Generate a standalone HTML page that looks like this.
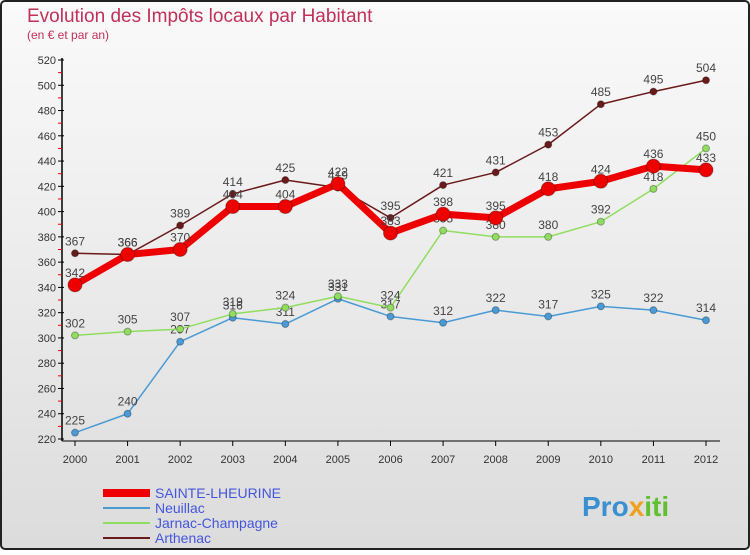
<!DOCTYPE html>
<html><head><meta charset="utf-8"><style>
body{margin:0;width:750px;height:550px;overflow:hidden;font-family:"Liberation Sans",sans-serif}
</style></head><body>
<svg width="750" height="550" viewBox="0 0 750 550">
<defs><linearGradient id="bg" x1="0" y1="0" x2="0" y2="1"><stop offset="0" stop-color="#fafafa"/><stop offset="1" stop-color="#dcdcdc"/></linearGradient></defs>
<rect x="1" y="1" width="748" height="548" rx="4" fill="url(#bg)" stroke="#222" stroke-width="2"/>
<text x="27" y="22" font-size="19" fill="#c0305a">Evolution des Impôts locaux par Habitant</text>
<text x="27" y="39" font-size="12" fill="#c0305a">(en € et par an)</text>
<g id="axes"></g><g id="series"></g><g id="legend"></g>
<text x="582" y="516" font-size="28" font-weight="bold" fill="#3a8fd0">Pro<tspan fill="#f0a020">x</tspan><tspan fill="#60c030">iti</tspan></text>
</svg>
<script>
const years=[2000,2001,2002,2003,2004,2005,2006,2007,2008,2009,2010,2011,2012];
const yTicks=[220,240,260,280,300,320,340,360,380,400,420,440,460,480,500,520];
const sainte=[342,366,370,404,404,422,383,398,395,418,424,436,433];
const neuillac=[225,240,297,316,311,331,317,312,322,317,325,322,314];
const jarnac=[302,305,307,319,324,333,324,385,380,380,392,418,450];
const arthenac=[367,366,389,414,425,419,395,421,431,453,485,495,504];
const NS="http://www.w3.org/2000/svg";
const X=i=>75+i*(706-75)/12;
const Y=v=>439-(v-220)*(439-60)/300;
function mk(t,a,p){const e=document.createElementNS(NS,t);for(const k in a)e.setAttribute(k,a[k]);p.appendChild(e);return e;}
const ax=document.getElementById('axes');
const yl=mk('line',{x1:62,y1:58,x2:62,y2:441,stroke:'#000','stroke-width':1.5},ax);


const xl=mk('line',{x1:62,y1:441,x2:720,y2:441,stroke:'#000','stroke-width':1},ax);


yTicks.forEach(v=>{mk('line',{x1:58,y1:Y(v),x2:64,y2:Y(v),stroke:'#000'},ax);
 if(v<520)mk('line',{x1:58,y1:Y(v+10),x2:62,y2:Y(v+10),stroke:'#e00'},ax);
 const t=mk('text',{x:56,y:Y(v)+4,'font-size':11,fill:'#333','text-anchor':'end'},ax);t.textContent=v;
 
 });
years.forEach((y,i)=>{mk('line',{x1:X(i),y1:441,x2:X(i),y2:446,stroke:'#000'},ax);
 const t=mk('text',{x:X(i),y:463,'font-size':11,fill:'#333','text-anchor':'middle'},ax);t.textContent=y;
 
 });
const sg=document.getElementById('series');
function draw(d,col,w,r,name){const g=mk('g',{},sg);
 
 
 mk('polyline',{points:d.map((v,i)=>X(i)+','+Y(v)).join(' '),fill:'none',stroke:col,'stroke-width':w,'stroke-linejoin':'round'},g);
 d.forEach((v,i)=>{const c=mk('circle',{cx:X(i),cy:Y(v),r:r,fill:col,stroke:'rgba(0,0,0,0.3)'},g);
  
  
  const t=mk('text',{x:X(i),y:Y(v)-8,'font-size':12,fill:'#444','text-anchor':'middle'},g);t.textContent=v;});}
draw(neuillac,'#4a9ad6',1.5,3.5,'neuillac');
draw(jarnac,'#90dd60',1.5,3.5,'jarnac-champagne');
draw(arthenac,'#6a1a1a',1.5,3.5,'arthenac');
draw(sainte,'#ee0000',7,7,'sainte-lheurine');
const lg=document.getElementById('legend');
[['SAINTE-LHEURINE','#ee0000',8],['Neuillac','#4a9ad6',2],['Jarnac-Champagne','#90dd60',2],['Arthenac','#6a1a1a',2]].forEach((e,i)=>{
 const y=493+i*15;const g=mk('g',{},lg);
 
 
 mk('line',{x1:103,y1:y,x2:150,y2:y,stroke:e[1],'stroke-width':e[2]},g);
 const t=mk('text',{x:155,y:y+5,'font-size':14,fill:'#4455dd'},g);t.textContent=e[0];});
</script>
</body></html>
